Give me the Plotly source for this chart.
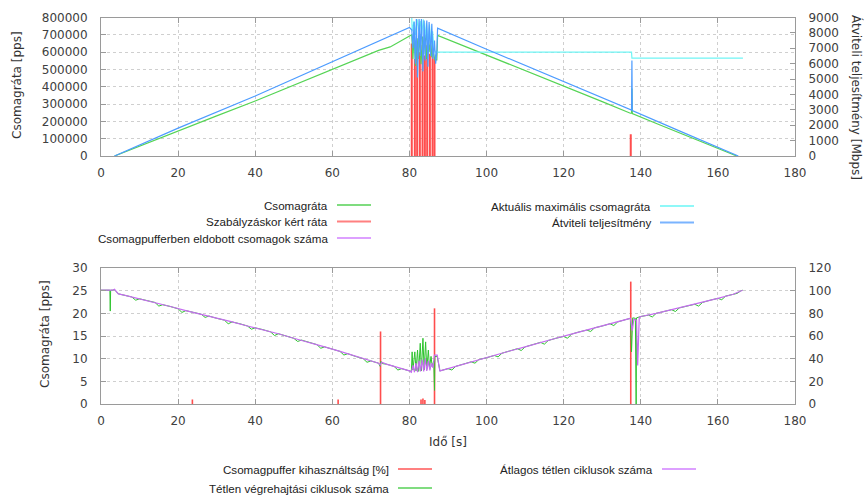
import plotly.graph_objects as go

W, H = 866, 495

# ---------------- top chart data ----------------
# Csomagráta [pps] (left axis)
top_green_t = [3.5, 10, 20, 30, 40, 50, 60, 70, 72, 75, 80, 80.6, 80.9, 81.2, 81.6, 82.0, 82.3, 82.7, 83.0,
               83.4, 83.7, 84.1, 84.4, 84.8, 85.1, 85.5, 85.8, 86.2, 86.6, 87.1, 87.3, 95, 103, 104.3,
               110, 120, 130, 137.3, 137.6, 137.7, 137.8, 145, 155, 164.9]
top_green = [0, 58000, 147000, 232000, 318000, 410000, 500000, 590000, 610000, 630000, 690000, 700000,
             560000, 690000, 520000, 680000, 560000, 700000, 530000, 690000, 590000, 700000, 560000,
             680000, 600000, 690000, 570000, 600000, 555000, 555000, 697000, 628000, 556000, 548000,
             493000, 403000, 314000, 247000, 247000, 390000, 245000, 179000, 89000, 0]

# Átviteli teljesítmény [Mbps] (right axis)
top_blue_t = [3.5, 20, 40, 60, 80, 80.6, 80.9, 81.2, 81.5, 81.8, 82.1, 82.5, 82.8, 83.1, 83.5, 83.8, 84.1,
              84.5, 84.8, 85.1, 85.5, 85.8, 86.1, 86.5, 86.8, 87.1, 87.3, 100, 120, 137.3, 137.6, 137.7,
              137.8, 150, 165.3]
top_blue = [0, 1810, 3900, 6100, 8350, 8200, 7000, 8700, 6000, 8900, 5100, 8900, 6500, 8900, 5500, 8800,
            6200, 8800, 5800, 8700, 6500, 8600, 6300, 7500, 6000, 6800, 8300, 6940, 4820, 2980, 2980,
            6200, 2950, 1630, 0]

# Aktuális maximális csomagráta [pps] (left axis)
top_cyan_t = [80.6, 80.7, 81.2, 81.6, 82.0, 82.4, 82.8, 83.2, 83.6, 84.0, 84.4, 84.8, 85.2, 85.6, 86.0,
              86.4, 86.7, 137.6, 137.7, 166.5]
top_cyan = [800000, 720000, 780000, 700000, 790000, 720000, 780000, 700000, 790000, 680000, 770000,
            650000, 760000, 640000, 720000, 620000, 600000, 600000, 565000, 565000]

# Szabályzáskor kért ráta [pps] (left axis, spikes)
top_red_t = [80.6, 81.4, 82.0, 82.7, 83.4, 84.0, 84.6, 85.3, 86.0, 86.5, 137.4]
top_red = [650000, 560000, 660000, 600000, 640000, 580000, 640000, 590000, 620000, 560000, 125000]

# ---------------- bottom chart data ----------------
bot_green_t = [0, 2.3, 2.4, 2.5, 3.2, 3.4, 4.5, 6, 8, 9, 10, 12, 14, 15, 16, 18, 20, 21, 22, 24, 26, 27,
               28, 30, 32, 33, 34, 36, 38, 39, 40, 42, 44, 45, 46, 48, 50, 51, 52, 54, 56, 57, 58, 60,
               62, 63, 64, 66, 68, 69, 70, 72, 72.4, 72.6, 73, 74, 76, 77, 78, 80,
               80.5, 80.7, 80.9, 81.4, 81.7, 82.1, 82.4, 82.8, 83.1, 83.5, 83.8, 84.2, 84.5, 84.9, 85.2,
               85.6, 85.9, 86.3, 86.5, 86.6, 87.2, 87.9,
               90, 91, 92, 94, 96, 97, 98, 100, 102, 103, 104, 106, 108, 109, 110, 112, 114, 115, 116,
               118, 120, 121, 122, 124, 126, 127, 128, 130, 132, 133, 134, 136, 137.3, 137.6, 137.9,
               138.6, 138.8, 138.9, 140, 142, 143, 144, 146, 148, 149, 150, 152, 154, 155, 156, 158,
               160, 161, 162, 164, 165, 166, 166.4]
bot_green = [25.1, 25.1, 20.5, 25.1, 25.1, 25.3, 24.3, 24.0, 23.6, 22.9, 23.2, 22.8, 22.4, 21.6, 21.9,
             21.5, 21.0, 20.2, 20.6, 20.2, 19.8, 19.1, 19.4, 18.9, 18.5, 17.7, 18.1, 17.7, 17.2, 16.5,
             16.8, 16.4, 15.9, 15.1, 15.5, 15.0, 14.5, 13.8, 14.1, 13.6, 13.1, 12.3, 12.6, 12.1, 11.6,
             10.8, 11.1, 10.5, 10.0, 9.2, 9.5, 9.0, 8.3, 9.4, 8.9, 8.8, 8.3, 7.5, 7.8, 7.3,
             7.2, 11.5, 7.5, 11.5, 7.3, 11.9, 7.2, 13.4, 7.3, 14.5, 7.5, 13.7, 7.6, 11.9, 8.0,
             10.5, 8.2, 9.5, 3.0, 10.5, 10.5, 7.3,
             7.8, 7.5, 8.3, 8.8, 9.3, 9.0, 9.8, 10.2, 10.7, 10.4, 11.2, 11.7, 12.2, 11.8, 12.6, 13.1,
             13.6, 13.2, 14.0, 14.5, 14.9, 14.5, 15.4, 15.9, 16.3, 16.0, 16.8, 17.2, 17.7, 17.3, 18.1,
             18.6, 18.9, 11.5, 19.0, 18.9, 0, 19.0, 19.3, 19.6, 19.2, 20.0, 20.4, 20.8, 20.4, 21.2,
             21.6, 22.0, 21.6, 22.4, 22.9, 23.3, 23.0, 23.8, 24.2, 24.4, 25.0, 25.1]

bot_purple_t = [0, 3.0, 3.5, 4.5, 6, 10, 14, 18, 22, 26, 30, 34, 38, 42, 46, 50, 54, 58, 62, 66, 70, 72,
                72.4, 72.8, 74, 76, 78, 80, 80.5, 80.9, 81.3, 81.7, 82.1, 82.5, 82.9, 83.3, 83.7, 84.1,
                84.5, 84.9, 85.3, 85.7, 86.1, 86.5, 87.2, 87.9, 90, 94, 98, 102, 106, 110, 114, 118,
                122, 126, 130, 134, 137.3, 137.8, 138.2, 138.9, 139.2, 139.6, 140, 144, 148, 152, 156,
                160, 164, 166, 166.4]
bot_purple = [25.1, 25.1, 25.3, 24.3, 24.0, 23.2, 22.4, 21.5, 20.6, 19.8, 18.9, 18.1, 17.2, 16.4, 15.5,
              14.5, 13.6, 12.6, 11.6, 10.5, 9.5, 9.0, 8.6, 9.2, 8.8, 8.3, 7.8, 7.3, 7.0, 8.5, 7.0, 9.0,
              7.0, 9.5, 7.2, 9.8, 7.2, 10.0, 7.3, 9.5, 7.4, 9.0, 8.0, 10.8, 10.8, 7.3, 7.8, 8.8, 9.8,
              10.7, 11.7, 12.6, 13.6, 14.5, 15.4, 16.3, 17.2, 18.1, 18.9, 16.2, 18.7, 18.5, 8.5, 19.1,
              19.3, 20.0, 20.8, 21.6, 22.4, 23.3, 24.2, 25.0, 25.1]

bot_red_t = [23.7, 61.5, 72.5, 83.0, 83.5, 84.0, 86.5, 137.4]
bot_red = [1.0, 1.0, 16.0, 1.0, 1.2, 0.9, 21.1, 27.0]

# tick settings
x_ticks = [0, 20, 40, 60, 80, 100, 120, 140, 160, 180]

GREEN = '#55d455'
RED = '#ff4d4d'
PURPLE = '#c56cf0'
CYAN = '#70f5f5'
BLUE = '#4d9cff'


def spikes(ts, vs):
    xs, ys = [], []
    for t, v in zip(ts, vs):
        xs += [t, t, None]
        ys += [0, v, None]
    return xs, ys


fig = go.Figure()

rx, ry = spikes(top_red_t, top_red)
fig.add_trace(go.Scatter(x=rx, y=ry, mode='lines', line=dict(color=RED, width=2),
                         xaxis='x', yaxis='y', showlegend=False))
fig.add_trace(go.Scatter(x=top_green_t, y=top_green, mode='lines', line=dict(color=GREEN, width=1.2),
                         xaxis='x', yaxis='y', showlegend=False))
fig.add_trace(go.Scatter(x=top_cyan_t, y=top_cyan, mode='lines', line=dict(color=CYAN, width=1.2),
                         xaxis='x', yaxis='y', showlegend=False))
fig.add_trace(go.Scatter(x=top_blue_t, y=top_blue, mode='lines', line=dict(color=BLUE, width=1.2),
                         xaxis='x', yaxis='y2', showlegend=False))

bx, by = spikes(bot_red_t, bot_red)
fig.add_trace(go.Scatter(x=bx, y=by, mode='lines', line=dict(color=RED, width=1.6),
                         xaxis='x2', yaxis='y3', showlegend=False))
fig.add_trace(go.Scatter(x=bot_green_t, y=bot_green, mode='lines', line=dict(color='#2ec42e', width=1),
                         xaxis='x2', yaxis='y3', showlegend=False))
fig.add_trace(go.Scatter(x=bot_purple_t, y=bot_purple, mode='lines', line=dict(color=PURPLE, width=1.2),
                         xaxis='x2', yaxis='y3', showlegend=False))
# dummy trace so the right bottom axis is rendered
fig.add_trace(go.Scatter(x=[None], y=[None], xaxis='x2', yaxis='y4', showlegend=False))


def px(x):
    return x / W


def py(y):
    return 1 - y / H


TICKFONT = dict(family='DejaVu Sans', size=12, color='#404040')
AXLINE = '#9a9a9a'
GRID = '#cfcfcf'

xdom = [px(101), px(795)]
top_dom = [py(156), py(17.5)]
bot_dom = [py(404), py(268)]

common_x = dict(range=[0, 180], tickvals=x_ticks, showline=True, linecolor=AXLINE, linewidth=1,
                mirror='ticks', ticks='inside', ticklen=5, tickcolor=AXLINE, showgrid=True,
                gridcolor=GRID, griddash='dot', gridwidth=1, zeroline=False, tickfont=TICKFONT,
                ticklabelstandoff=6, domain=xdom, automargin=False)
common_y = dict(showline=True, linecolor=AXLINE, linewidth=1, ticks='inside', ticklen=5,
                tickcolor=AXLINE, showgrid=True, gridcolor=GRID, griddash='dot', gridwidth=1,
                zeroline=False, tickfont=TICKFONT, ticklabelstandoff=10, automargin=False)

fig.update_layout(
    width=W, height=H, margin=dict(l=0, r=0, t=0, b=0, autoexpand=False),
    paper_bgcolor='white', plot_bgcolor='white', showlegend=False,
    xaxis=dict(**common_x, anchor='y'),
    xaxis2=dict(**common_x, anchor='y3'),
    yaxis=dict(**common_y, range=[0, 800000], dtick=100000, tickformat='d', domain=top_dom,
               anchor='x', mirror=True),
    yaxis2=dict(range=[0, 9000], dtick=1000, tickformat='d', overlaying='y', side='right',
                anchor='x', showline=True, linecolor=AXLINE, ticks='inside', ticklen=5,
                tickcolor=AXLINE, showgrid=False, zeroline=False, tickfont=TICKFONT,
                ticklabelstandoff=10, automargin=False),
    yaxis3=dict(**common_y, range=[0, 30], dtick=5, domain=bot_dom, anchor='x2', mirror=True),
    yaxis4=dict(range=[0, 120], dtick=20, overlaying='y3', side='right', anchor='x2',
                showline=True, linecolor=AXLINE, ticks='inside', ticklen=5, tickcolor=AXLINE,
                showgrid=False, zeroline=False, tickfont=TICKFONT, ticklabelstandoff=10,
                automargin=False),
)

TITLEFONT = dict(family='DejaVu Sans', size=12, color='#333333')
ann = []
ann.append(dict(text='Csomagráta [pps]', x=px(17), y=py(85), textangle=-90, font=TITLEFONT))
ann.append(dict(text='Átviteli teljesítmény [Mbps]', x=px(857), y=py(97), textangle=90, font=TITLEFONT))
ann.append(dict(text='Csomagráta [pps]', x=px(45), y=py(334), textangle=-90, font=TITLEFONT))
ann.append(dict(text='Idő [s]', x=px(448), y=py(442), font=TITLEFONT))
for a in ann:
    a.update(xref='paper', yref='paper', showarrow=False, xanchor='center', yanchor='middle')

LEGFONT = dict(family='Liberation Sans', size=11.6, color='#222222')
legend_items = [
    ('Csomagráta', '#7fdc7f', 330, 205),
    ('Szabályzáskor kért ráta', '#ff8080', 330, 221.5),
    ('Csomagpufferben eldobott csomagok száma', '#dda0ff', 330, 238),
    ('Aktuális maximális csomagráta', '#8ff8f8', 653, 206),
    ('Átviteli teljesítmény', '#7ab4ff', 653, 222.5),
    ('Csomagpuffer kihasználtság [%]', '#ff8080', 391, 469),
    ('Tétlen végrehajtási ciklusok száma', '#80dc80', 391, 488),
    ('Átlagos tétlen ciklusok száma', '#dda0ff', 655, 469),
]
shapes = []
for label, col, xr, yc in legend_items:
    ann.append(dict(text=label, x=px(xr), y=py(yc), xref='paper', yref='paper', showarrow=False,
                    xanchor='right', yanchor='middle', font=LEGFONT))
    shapes.append(dict(type='line', xref='paper', yref='paper', x0=px(xr + 7), x1=px(xr + 41),
                       y0=py(yc), y1=py(yc), line=dict(color=col, width=2)))

fig.update_layout(annotations=ann, shapes=shapes)

fig.write_html('out.html')
